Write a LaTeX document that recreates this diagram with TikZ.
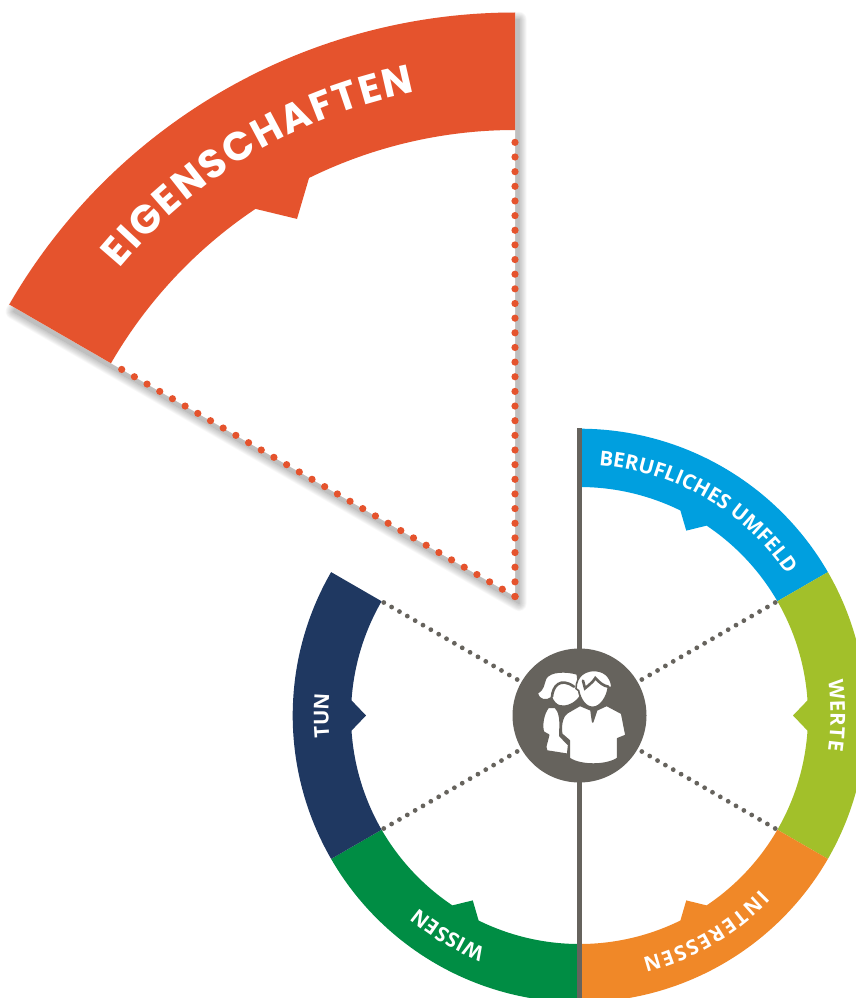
\documentclass[tikz,border=0pt]{standalone}
\usepackage{fontspec}
\usepackage{tikz}
\usetikzlibrary{decorations.text}
\newfontfamily\labelface{Poppins}[BoldFont=* Bold]
\newfontfamily\smallface{Open Sans}
\definecolor{bandred}{HTML}{E5532D}
\definecolor{wheelblue}{HTML}{009FDF}
\definecolor{wheellime}{HTML}{A2C02A}
\definecolor{wheelorange}{HTML}{F08828}
\definecolor{wheelgreen}{HTML}{008D44}
\definecolor{wheelnavy}{HTML}{1F3861}
\definecolor{hubgrey}{HTML}{66635D}
\tikzset{
  x=1pt,y=1pt,
  hubstyle/.style={circle,fill=hubgrey,minimum size=134pt,inner sep=0pt},
  iconfill/.style={fill=white,draw=hubgrey,line width=1.6pt,line join=round},
  curvedlabel/.style n args={2}{postaction={decorate,decoration={text along path,text align={fit to path},text={|#1\color{white}|#2}}}}
}
\newcommand{\wheelband}[2]{%
  \fill[#1] (#2+30:286.8) arc[start angle=#2+30,end angle=#2-30,radius=286.8]
    -- (#2-30:228.5) arc[start angle=#2-30,end angle=#2-3.8,radius=228.5]
    -- (#2:213.5) -- (#2+3.8:228.5)
    arc[start angle=#2+3.8,end angle=#2+30,radius=228.5] -- cycle;}
\newcommand{\smalllabel}[4]{%
  \path[curvedlabel={\fontsize{#4}{#4}\smallface\bfseries}{#3}] (#1:251) arc[start angle=#1,end angle=#2,radius=251];}
\begin{document}
\begin{tikzpicture}
\useasboundingbox (0,0) rectangle (856,-998);
\clip (0,0) rectangle (856,-998);
% big sector
\begin{scope}[shift={(515,-596.5)}]
  \foreach \w in {0,1.4,...,15.4}{
    \begin{scope}[transparency group,opacity=.022]
    \filldraw[shift={(4,-7)},black,line width=\w pt,line join=round]
      (0,0) -- (150:584) arc[start angle=150,end angle=90,radius=584] -- cycle;
    \end{scope}
  }
  \fill[white] (0,0) -- (150:584) arc[start angle=150,end angle=90,radius=584] -- cycle;
  \fill[bandred] (150:584) arc[start angle=150,end angle=90,radius=584]
    -- (90:466.5) arc[start angle=90,end angle=116.2,radius=466.5]
    -- (120:436) -- (123.8:466.5)
    arc[start angle=123.8,end angle=150,radius=466.5] -- cycle;
  \foreach \k in {0,...,31}{
    \fill[bandred] (150:{\k*14.65}) circle (3.6);
    \fill[bandred] (90:{\k*14.65}) circle (3.6);
  }
  \path[curvedlabel={\fontsize{40}{40}\labelface\bfseries}{EIGENSCHAFTEN}]
    (140.3:514) arc[start angle=140.3,end angle=101.2,radius=514];
\end{scope}
% wheel
\begin{scope}[shift={(579.5,-715.5)}]
  \wheelband{wheelblue}{60}
  \wheelband{wheellime}{0}
  \wheelband{wheelorange}{-60}
  \wheelband{wheelgreen}{-120}
  \wheelband{wheelnavy}{180}
  \foreach \a in {30,-30,150,210}{
    \foreach \k in {0,...,17}{
      \fill[hubgrey] (\a:{72+\k*9.06}) circle (2.4);
    }
  }
  \coordinate (poletop) at (0,287.5);
  \coordinate (polebot) at (0,-283);
  \draw[hubgrey,line width=5pt] (poletop) -- (polebot);
  \node[hubstyle] (hub) at (0,0) {};
  \smalllabel{85.6}{34.4}{BERUFLICHES UMFELD}{20.5}
  \smalllabel{8}{-8}{WERTE}{20.5}
  \smalllabel{316}{284.5}{INTERESSEN}{20.5}
  \smalllabel{248}{230}{WISSEN}{20.5}
  \smalllabel{185}{175}{TUN}{20.5}
\end{scope}
% icon
\begin{scope}[shift={(480,-630)},x=0.3333pt,y=-0.3333pt]
  \path[iconfill] (172,188) .. controls (192,180) and (190,160) .. (197,145)
    .. controls (210,122) and (260,122) .. (292,132)
    -- (300,200) .. controls (285,222) and (260,232) .. (240,228)
    .. controls (228,225) and (220,215) .. (215,203)
    .. controls (200,214) and (176,214) .. (172,188) -- cycle;
  \draw[hubgrey,line width=2.6pt,line cap=round] (216,200) .. controls (218,170) and (240,140) .. (282,170);
  \path[iconfill] (205,232) -- (226,232) .. controls (238,245) and (242,265) .. (240,300)
    -- (240,318) -- (266,345) -- (263,373) -- (200,363) -- (197,350) -- (206,315)
    -- (190,306) .. controls (184,285) and (190,250) .. (205,232) -- cycle;
  \path[iconfill] (288,176) .. controls (288,135) and (320,118) .. (350,122)
    .. controls (380,125) and (396,150) .. (395,172)
    -- (385,172) .. controls (382,200) and (362,232) .. (338,232)
    .. controls (315,232) and (300,205) .. (296,182) -- cycle;
  \draw[hubgrey,line width=2.6pt,line cap=round] (309,152) -- (315,175) -- (327,165) .. controls (335,160) and (342,150) .. (346,144) .. controls (360,160) and (372,168) .. (385,170);
  \path[iconfill] (300,226) -- (333,240) -- (338,276) -- (350,240) -- (380,226)
    -- (425,250) -- (438,316) -- (413,326) -- (413,385)
    .. controls (380,408) and (300,408) .. (268,385)
    -- (268,332) -- (245,312) .. controls (240,280) and (250,255) .. (262,248) -- cycle;
\end{scope}
\end{tikzpicture}
\end{document}
